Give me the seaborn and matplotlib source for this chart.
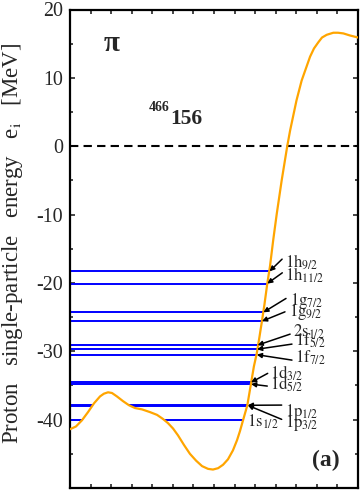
import numpy as np
import matplotlib
matplotlib.use("Agg")
import matplotlib.pyplot as plt
from matplotlib.patches import Polygon
import seaborn as sns

# radial coordinate [fm] and proton mean-field potential [MeV]
r_fm = [0.0, 0.29, 0.58, 0.875, 1.17, 1.46, 1.65, 1.85, 2.04, 2.28, 2.58, 2.87,
        3.16, 3.50, 3.89, 4.23, 4.52, 4.76, 5.01, 5.25, 5.54, 5.83, 6.13, 6.42,
        6.71, 6.95, 7.20, 7.44, 7.68, 7.92, 8.12, 8.26, 8.42, 8.62, 8.80, 8.94,
        9.08, 9.21, 9.33, 9.45, 9.59, 9.72, 9.88, 10.05, 10.29, 10.56, 10.70,
        11.01, 11.26, 11.67, 11.86, 12.07, 12.25, 12.48, 12.80, 13.03, 13.29,
        13.61, 14.0]
v_mev = [-41.4, -41.0, -40.1, -38.9, -37.6, -36.6, -36.2, -36.0, -36.1, -36.6,
         -37.3, -37.9, -38.3, -38.5, -38.9, -39.3, -39.9, -40.5, -41.3, -42.3,
         -43.7, -45.0, -46.0, -46.8, -47.2, -47.3, -47.1, -46.6, -45.8, -44.5,
         -43.0, -41.7, -40.0, -37.9, -34.7, -32.2, -30.3, -27.9, -25.6, -23.2,
         -20.1, -17.6, -13.7, -9.9, -5.0, 0.0, 2.3, 6.7, 9.6, 13.1, 14.3, 15.2,
         15.9, 16.3, 16.6, 16.6, 16.5, 16.2, 15.9]

# single-particle levels
level_names = ["1h_{9/2}", "1h_{11/2}", "1g_{7/2}", "1g_{9/2}", "2s_{1/2}",
               "1f_{5/2}", "1f_{7/2}", "1d_{3/2}", "1d_{5/2}", "1p_{1/2}",
               "1p_{3/2}", "1s_{1/2}"]
level_energy = [-18.3, -20.1, -24.3, -25.6, -29.1, -29.7, -30.5, -34.55,
                -34.8, -37.9, -38.0, -40.0]

# label layout: (text x, text y, arrow tail x, tail y, arrow head x, head y)
label_layout = {
    "1h_{9/2}":  (10.45, -17.73, 10.31, -16.52, 9.70, -18.3),
    "1h_{11/2}": (10.45, -19.59, 10.32, -18.52, 9.59, -20.1),
    "1g_{7/2}":  (10.70, -23.25, 10.50, -22.27, 9.40, -24.3),
    "1g_{9/2}":  (10.66, -24.85, 10.45, -24.23, 9.33, -25.6),
    "2s_{1/2}":  (10.86, -27.78, 10.70, -27.49, 9.12, -29.1),
    "1f_{5/2}":  (10.94, -29.24, 10.79, -28.95, 9.09, -29.7),
    "1f_{7/2}":  (10.94, -31.68, 10.79, -31.29, 9.08, -30.5),
    "1d_{3/2}":  (9.72, -33.96, 9.61, -33.23, 8.80, -34.55),
    "1d_{5/2}":  (9.72, -35.67, 9.59, -35.09, 8.80, -34.8),
    "1p_{1/2}":  (10.45, -39.47, 10.29, -37.87, 8.64, -37.9),
    "1p_{3/2}":  (10.45, -41.04, 10.29, -39.96, 8.64, -37.9),
    "1s_{1/2}":  (8.62, -41.04, None, None, None, None),
}

sns.set_style("ticks")
plt.rcParams["font.family"] = ["Liberation Serif", "DejaVu Serif"]
plt.rcParams["mathtext.fontset"] = "stix"
plt.rcParams["axes.unicode_minus"] = False

fig = plt.figure(figsize=(3.62, 4.91), dpi=100)
ax = fig.add_axes([70 / 362, 1 - 488 / 491, 288 / 362, 478.5 / 491])

# levels: visible only where the energy lies above the potential
above = Polygon(list(zip(r_fm, v_mev)) + [(14.0, 25.0), (0.0, 25.0)],
                closed=True, transform=ax.transData)
lc = ax.hlines(level_energy, 0, 14, colors="#0000ff", lw=1.4, zorder=2)
lc.set_clip_path(above)

sns.lineplot(x=r_fm, y=v_mev, ax=ax, color="#ffa500", lw=1.6,
             estimator=None, sort=False, zorder=3)
ax.axhline(0, color="k", lw=1.5, ls=(0, (4, 2.5)), zorder=1)

for name in level_names:
    tx, ty, ax0, ay0, hx, hy = label_layout[name]
    main, sub = name.split("_")
    ax.text(tx, ty, "$\\mathrm{" + main + "}_{" + sub.strip("{}") + "}$",
            fontsize=12, ha="left", va="baseline", zorder=5)
    if ax0 is not None:
        ax.annotate("", xy=(hx, hy), xytext=(ax0, ay0),
                    arrowprops=dict(arrowstyle="-|>", color="k", lw=1.1,
                                    mutation_scale=7, shrinkA=0, shrinkB=0),
                    zorder=5)

ax.text(2.04, 15.0, "\u03c0", fontsize=21, fontweight="bold",
        ha="center", va="center")
ax.text(4.84, 5.16, "466", fontsize=10, fontweight="bold",
        ha="right", va="baseline")
ax.text(4.89, 3.32, "156", fontsize=15.5, fontweight="bold",
        ha="left", va="baseline")
ax.text(12.45, -46.8, "(a)", fontsize=17, fontweight="bold",
        ha="center", va="baseline")

ax.set_xlim(0, 14)
ax.set_ylim(-50, 20)
ax.set_xticks(range(1, 14))
ax.set_xticklabels([])
ax.set_yticks(range(-40, 21, 10))
ax.set_yticks(range(-45, 20, 10), minor=True)
ax.set_yticklabels([str(v) for v in range(-40, 21, 10)], fontsize=14.4)
ax.tick_params(axis="both", which="both", direction="in",
               top=True, right=True, width=1.2, pad=4.8)
ax.tick_params(axis="y", which="major", length=3.6)
ax.tick_params(axis="y", which="minor", length=2.4)
ax.tick_params(axis="x", length=2.9)
for sp in ax.spines.values():
    sp.set_linewidth(1.6)
    sp.set_color("k")

ax.set_xlabel("")
ax.set_ylabel("Proton   single-particle   energy   e$_\\mathrm{i}$   [MeV]",
              fontsize=16.5)
ax.yaxis.set_label_coords(-0.155, 0.512)

fig.savefig("out.png", dpi=100)
